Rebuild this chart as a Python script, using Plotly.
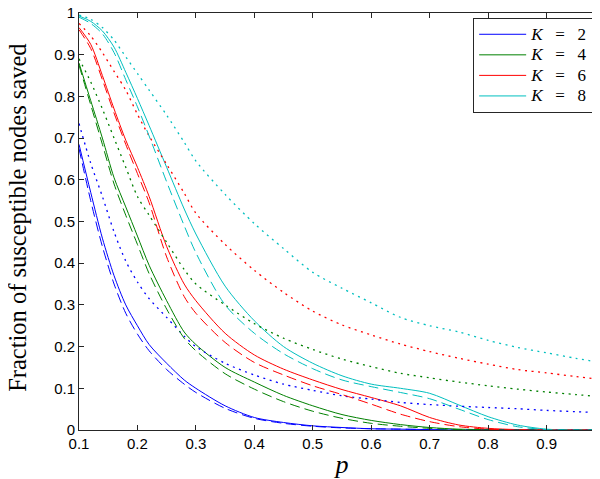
import plotly.graph_objects as go

p = [0.10, 0.12, 0.14, 0.16, 0.18, 0.20, 0.22, 0.25, 0.28, 0.30, 0.35, 0.40,
     0.45, 0.50, 0.55, 0.60, 0.65, 0.70, 0.75, 0.80, 0.85, 0.90, 0.95, 1.00]

x_ticks = [0.1, 0.2, 0.3, 0.4, 0.5, 0.6, 0.7, 0.8, 0.9, 1.0]
y_ticks = [0, 0.1, 0.2, 0.3, 0.4, 0.5, 0.6, 0.7, 0.8, 0.9, 1.0]

# K = 2
k2_solid = [0.685, 0.57, 0.46, 0.37, 0.30, 0.25, 0.205, 0.16, 0.12, 0.10, 0.058, 0.030,
            0.018, 0.010, 0.006, 0.003, 0.002, 0.001, 0, 0, 0, 0, 0, 0]
k2_dash = [0.675, 0.55, 0.44, 0.35, 0.28, 0.23, 0.19, 0.145, 0.11, 0.09, 0.052, 0.028,
           0.016, 0.009, 0.005, 0.003, 0.002, 0.001, 0, 0, 0, 0, 0, 0]
k2_dot = [0.735, 0.64, 0.56, 0.475, 0.405, 0.355, 0.315, 0.27, 0.225, 0.20, 0.16, 0.132,
          0.11, 0.095, 0.082, 0.074, 0.066, 0.061, 0.057, 0.054, 0.051, 0.047, 0.044, 0.041]

# K = 4
k4_solid = [0.88, 0.79, 0.70, 0.605, 0.535, 0.465, 0.395, 0.31, 0.235, 0.205, 0.15, 0.115,
            0.083, 0.058, 0.037, 0.023, 0.013, 0.006, 0.002, 0.001, 0, 0, 0, 0]
k4_dash = [0.875, 0.78, 0.685, 0.59, 0.515, 0.445, 0.375, 0.29, 0.22, 0.19, 0.135, 0.098,
           0.068, 0.045, 0.028, 0.016, 0.009, 0.004, 0.001, 0, 0, 0, 0, 0]
k4_dot = [0.89, 0.835, 0.77, 0.70, 0.63, 0.56, 0.515, 0.45, 0.385, 0.35, 0.30, 0.255,
          0.22, 0.193, 0.17, 0.152, 0.136, 0.125, 0.115, 0.106, 0.098, 0.091, 0.085, 0.079]

# K = 6
k6_solid = [0.965, 0.925, 0.85, 0.77, 0.695, 0.63, 0.56, 0.44, 0.35, 0.31, 0.232, 0.18,
            0.146, 0.12, 0.097, 0.078, 0.058, 0.03, 0.012, 0.004, 0.001, 0, 0, 0]
k6_dash = [0.96, 0.915, 0.84, 0.76, 0.685, 0.615, 0.545, 0.415, 0.32, 0.28, 0.21, 0.162,
           0.132, 0.106, 0.085, 0.062, 0.038, 0.02, 0.008, 0.002, 0, 0, 0, 0]
k6_dot = [0.975, 0.945, 0.905, 0.86, 0.815, 0.757, 0.705, 0.637, 0.568, 0.52, 0.445, 0.383,
          0.33, 0.285, 0.252, 0.228, 0.206, 0.188, 0.172, 0.158, 0.145, 0.137, 0.128, 0.12]

# K = 8
k8_solid = [0.993, 0.98, 0.957, 0.918, 0.858, 0.795, 0.73, 0.63, 0.53, 0.47, 0.345, 0.262,
            0.2, 0.16, 0.13, 0.11, 0.10, 0.088, 0.06, 0.032, 0.012, 0.002, 0, 0]
k8_dash = [0.99, 0.975, 0.95, 0.905, 0.84, 0.775, 0.705, 0.595, 0.49, 0.425, 0.30, 0.232,
           0.183, 0.147, 0.12, 0.104, 0.09, 0.075, 0.05, 0.025, 0.008, 0.001, 0, 0]
k8_dot = [0.995, 0.985, 0.965, 0.935, 0.895, 0.855, 0.815, 0.755, 0.69, 0.645, 0.565, 0.495,
          0.435, 0.378, 0.34, 0.305, 0.27, 0.25, 0.235, 0.215, 0.198, 0.185, 0.172, 0.16]

y_title = "Fraction of susceptible nodes saved"
x_title = "<i>p</i>"

nb = "\u00a0"
labels = ['<span style="font-size:17px"><i>K</i>' + nb * 3 + "=" + nb * 3 + d + nb + "</span>"
          for d in ["2", "4", "6", "8"]]
colors = ["#0000FF", "#008000", "#FF0000", "#00BFBF"]
groups = [(k2_solid, k2_dash, k2_dot), (k4_solid, k4_dash, k4_dot),
          (k6_solid, k6_dash, k6_dot), (k8_solid, k8_dash, k8_dot)]

fig = go.Figure()
for lab, col, (s, d, o) in zip(labels, colors, groups):
    fig.add_trace(go.Scatter(x=p, y=s, mode="lines", name=lab,
                             line=dict(color=col, width=1, shape="spline", smoothing=0.8)))
for lab, col, (s, d, o) in zip(labels, colors, groups):
    fig.add_trace(go.Scatter(x=p, y=d, mode="lines", showlegend=False,
                             line=dict(color=col, width=1, dash="10px,5px",
                                       shape="spline", smoothing=0.8)))
    fig.add_trace(go.Scatter(x=p, y=o, mode="lines", showlegend=False,
                             line=dict(color=col, width=1.3, dash="2px,4.5px",
                                       shape="spline", smoothing=0.8)))

axis_common = dict(showline=True, linecolor="#262626", linewidth=1, mirror="ticks",
                   ticks="inside", ticklen=5, tickcolor="#262626", showgrid=False,
                   zeroline=False, ticklabeloverflow="allow", automargin=False,
                   tickfont=dict(family="Liberation Sans, Arial", size=15, color="#000"))

fig.update_layout(
    width=600, height=479,
    margin=dict(l=71, r=3, t=5, b=57, autoexpand=False),
    paper_bgcolor="white", plot_bgcolor="white",
    xaxis=dict(range=[0.1, 1], tickvals=x_ticks,
               title=dict(text=x_title, font=dict(family="Liberation Serif", size=26, color="#000"),
                          standoff=3),
               **axis_common),
    yaxis=dict(range=[0, 1], tickvals=y_ticks, **axis_common),
    legend=dict(x=0.987, y=0.988, xanchor="right", yanchor="top",
                bgcolor="white", bordercolor="#262626", borderwidth=1,
                font=dict(family="Liberation Serif", size=13.5, color="#000"),
                itemwidth=47),
    showlegend=True,
    annotations=[dict(text=y_title, textangle=-90, xref="paper", yref="paper",
                      x=-0.117, y=0.51, xanchor="center", yanchor="middle", showarrow=False,
                      font=dict(family="Liberation Serif", size=24.5, color="#000"))],
)

fig.write_html("out.html")
